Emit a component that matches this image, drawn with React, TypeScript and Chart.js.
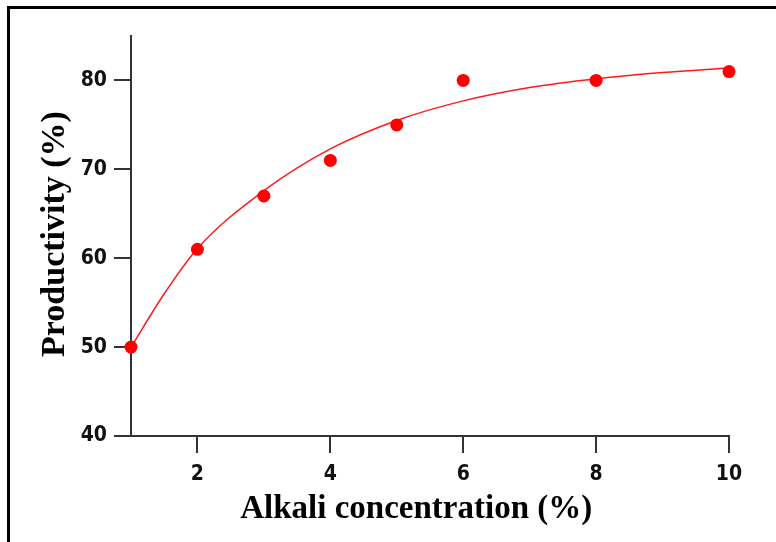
import React, { useEffect, useRef } from "react";
import { Chart, registerables } from "chart.js";

Chart.register(...registerables);

const concentration = [1, 2, 3, 4, 5, 6, 8, 10];
const productivity = [50, 61, 67, 71, 75, 80, 80, 81];
const fitX = [1, 1.5, 2, 3, 4, 5, 6, 7, 8, 9, 10];
const fitY = [50, 56.0, 61.1, 67.6, 72.3, 75.5, 77.7, 79.2, 80.2, 80.9, 81.4];
const xTickValues = [2, 4, 6, 8, 10];
const yTickValues = [40, 50, 60, 70, 80];
const xTitle = "Alkali concentration (%)";
const yTitle = "Productivity (%)";

const titlePlugin = {
  id: "axisTitles",
  afterDraw(chart: any) {
    const { ctx, chartArea } = chart;
    ctx.save();
    ctx.fillStyle = "#000";
    ctx.textAlign = "center";
    ctx.textBaseline = "alphabetic";
    ctx.font = "bold 33px 'Liberation Serif', 'Times New Roman', serif";
    ctx.fillText(xTitle, chartArea.left + chartArea.width * 0.477, chartArea.bottom + 82);
    ctx.translate(chartArea.left - 67, chartArea.top + chartArea.height * 0.495);
    ctx.rotate(-Math.PI / 2);
    ctx.font = "bold 34px 'Liberation Serif', 'Times New Roman', serif";
    ctx.fillText(yTitle, 0, 0);
    ctx.restore();
  },
};

export default function App() {
  const canvasRef = useRef<HTMLCanvasElement | null>(null);

  useEffect(() => {
    const canvas = canvasRef.current;
    if (!canvas) return;
    const tickFont = {
      family: "'Liberation Sans Narrow', 'Arial Narrow', 'DejaVu Sans Condensed', 'Liberation Sans', sans-serif",
      size: 21,
      weight: "bold" as const,
    };
    const chart = new Chart(canvas, {
      type: "scatter",
      data: {
        datasets: [
          {
            label: "fit",
            data: fitX.map((x, i) => ({ x, y: fitY[i] })),
            showLine: true,
            borderColor: "#ff1a1a",
            borderWidth: 1.5,
            pointRadius: 0,
            cubicInterpolationMode: "monotone",
            clip: false,
            order: 2,
          } as any,
          {
            label: "data",
            data: concentration.map((x, i) => ({ x, y: productivity[i] })),
            backgroundColor: "#ff0000",
            borderWidth: 0,
            pointRadius: 6.5,
            pointHoverRadius: 6.5,
            clip: false,
            order: 1,
          } as any,
        ],
      },
      options: {
        responsive: false,
        animation: false,
        events: [],
        layout: { padding: { left: 0, right: 47, top: 36, bottom: 0 } },
        plugins: { legend: { display: false }, tooltip: { enabled: false } },
        scales: {
          x: {
            type: "linear",
            min: 1,
            max: 10,
            afterBuildTicks: (s: any) => {
              s.ticks = xTickValues.map((v) => ({ value: v }));
            },
            afterFit: (s: any) => {
              s.height = 106;
            },
            grid: { drawOnChartArea: false, drawTicks: true, tickLength: 17, color: "#333", lineWidth: 2 },
            border: { display: true, color: "#333", width: 2 },
            ticks: { font: tickFont, color: "#111", padding: 9, maxRotation: 0, autoSkip: false },
            title: { display: false },
          },
          y: {
            type: "linear",
            min: 40,
            max: 85,
            afterBuildTicks: (s: any) => {
              s.ticks = yTickValues.map((v) => ({ value: v }));
            },
            afterFit: (s: any) => {
              s.width = 131;
            },
            grid: { drawOnChartArea: false, drawTicks: true, tickLength: 17, color: "#333", lineWidth: 2 },
            border: { display: true, color: "#333", width: 2 },
            ticks: { font: tickFont, color: "#111", padding: 7 },
            title: { display: false },
          },
        },
      },
      plugins: [titlePlugin],
    });
    return () => chart.destroy();
  }, []);

  return (
    <div style={{ position: "absolute", left: 0, top: 0, width: 776, height: 542, background: "#fff", overflow: "hidden" }}>
      <div
        style={{
          position: "absolute",
          left: 7,
          top: 6,
          width: 769,
          height: 536,
          boxSizing: "border-box",
          borderLeft: "3px solid #000",
          borderTop: "3px solid #000",
        }}
      />
      <canvas ref={canvasRef} width={776} height={542} style={{ position: "absolute", left: 0, top: 0, width: 776, height: 542 }} />
    </div>
  );
}
